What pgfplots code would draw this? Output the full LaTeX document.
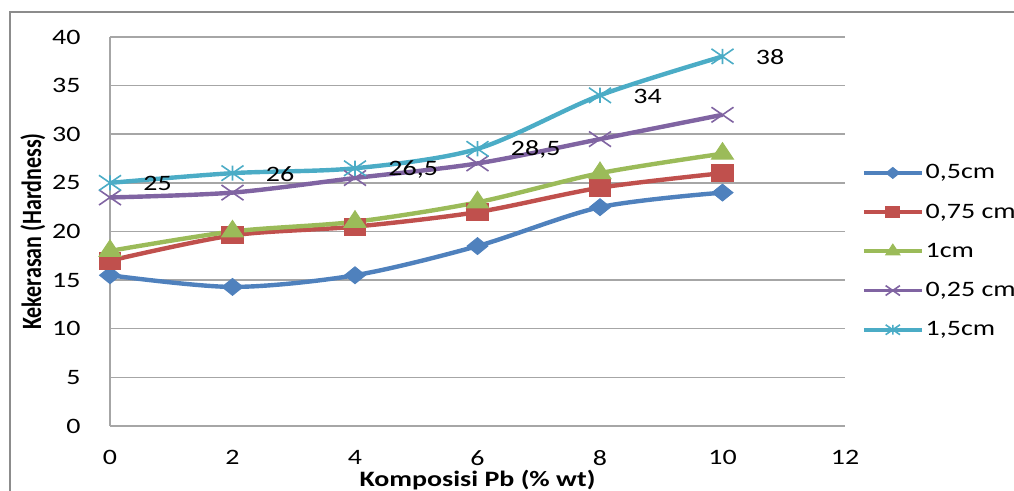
\documentclass[border=0pt]{standalone}
\usepackage{fontspec}
\setmainfont{Carlito}[FakeStretch=1.27]
\newfontfamily\narrowfont{Carlito}
\usepackage{graphicx}
\usepackage{pgfplots}
\pgfplotsset{compat=1.18}

\definecolor{serBlue}{HTML}{4F81BD}
\definecolor{serRed}{HTML}{C0504D}
\definecolor{serGreen}{HTML}{9BBB59}
\definecolor{serPurple}{HTML}{8064A2}
\definecolor{serAqua}{HTML}{4BACC6}
\definecolor{gridgray}{HTML}{A6A6A6}
\definecolor{framegray}{HTML}{8C8C8C}

% cross made of two diagonals
\pgfdeclareplotmark{xcross}{%
  \pgfpathmoveto{\pgfqpoint{-\pgfplotmarksize}{-\pgfplotmarksize}}%
  \pgfpathlineto{\pgfqpoint{\pgfplotmarksize}{\pgfplotmarksize}}%
  \pgfpathmoveto{\pgfqpoint{-\pgfplotmarksize}{\pgfplotmarksize}}%
  \pgfpathlineto{\pgfqpoint{\pgfplotmarksize}{-\pgfplotmarksize}}%
  \pgfusepathqstroke}
% cross plus a vertical bar
\pgfdeclareplotmark{xstar}{%
  \pgfpathmoveto{\pgfqpoint{-\pgfplotmarksize}{-\pgfplotmarksize}}%
  \pgfpathlineto{\pgfqpoint{\pgfplotmarksize}{\pgfplotmarksize}}%
  \pgfpathmoveto{\pgfqpoint{-\pgfplotmarksize}{\pgfplotmarksize}}%
  \pgfpathlineto{\pgfqpoint{\pgfplotmarksize}{-\pgfplotmarksize}}%
  \pgfpathmoveto{\pgfqpoint{0pt}{-\pgfplotmarksize}}%
  \pgfpathlineto{\pgfqpoint{0pt}{\pgfplotmarksize}}%
  \pgfusepathqstroke}

\begin{document}
\begin{tikzpicture}[font=\fontsize{11}{13.2}\selectfont]
\begin{axis}[
  at={(0pt,0pt)}, anchor=south west,
  scale only axis, width=367.5pt, height=194.5pt,
  xmin=0, xmax=12, ymin=0, ymax=40,
  xtick={0,2,...,12}, ytick={0,5,...,40},
  axis x line=bottom, axis y line=left,
  axis line style={draw=gridgray, line width=0.75pt, -},
  major tick length=0pt,
  ymajorgrids, grid style={draw=gridgray, line width=0.75pt},
  tick label style={text=black, /pgf/number format/assume math mode=true},
  xticklabel style={yshift=-7.8pt},
  yticklabel style={xshift=-10.3pt},
  xlabel={\bfseries Komposisi Pb (\% wt)},
  ylabel={\narrowfont\bfseries\scalebox{1}[1.27]{Kekerasan (Hardness)}},
  every axis x label/.style={at={(axis description cs:0.5,-0.1388)}, anchor=center},
  every axis y label/.style={at={(axis description cs:-0.1048,0.5)}, rotate=90, anchor=center},
  clip=false,
  line width=2.2pt,
  smooth, tension=0.5,
  legend cell align=left,
  legend style={at={(axis description cs:1.02,0.449)}, anchor=west,
    draw=none, fill=none, inner sep=0pt, row sep=7.6pt,
    nodes={text height=8pt, text depth=2pt, inner ysep=1pt, inner xsep=1pt}},
  legend image code/.code={%
    \draw[mark repeat=2, mark phase=2, #1, line width=1.9pt,
          every mark/.append style={scale=0.65}]
      plot coordinates {(0pt,0pt) (14.5pt,0pt) (29pt,0pt)};},
]
\addplot[color=serBlue, mark=diamond*, mark size=4.2pt,
  mark options={xscale=1.65, line width=0.5pt, solid}]
  coordinates {(0,15.5) (2,14.3) (4,15.5) (6,18.5) (8,22.5) (10,24)};
\addlegendentry{0,5cm}

\addplot[color=serRed, mark=square*, mark size=4.2pt,
  mark options={xscale=1.3, line width=0.5pt, solid}]
  coordinates {(0,17) (2,19.6) (4,20.5) (6,22) (8,24.5) (10,26)};
\addlegendentry{0,75 cm}

\addplot[color=serGreen, mark=triangle*, mark size=5.5pt,
  mark options={xscale=1.15, line width=0.5pt, solid}]
  coordinates {(0,18) (2,20) (4,21) (6,23) (8,26) (10,28)};
\addlegendentry{1cm}

\addplot[color=serPurple, mark=xcross, mark size=3.8pt,
  mark options={xscale=1.45, line width=0.8pt, solid}]
  coordinates {(0,23.5) (2,24) (4,25.5) (6,27) (8,29.5) (10,32)};
\addlegendentry{0,25 cm}

\addplot[color=serAqua, mark=xstar, mark size=3.8pt,
  mark options={xscale=1.45, line width=0.8pt, solid},
  nodes near coords, point meta=explicit symbolic,
  nodes near coords style={anchor=west, xshift=13pt, yshift=-0.5pt, text=black}]
  coordinates {(0,25) [25] (2,26) [26] (4,26.5) [26,5] (6,28.5) [28,5] (8,34) [34] (10,38) [38]};
\addlegendentry{1,5cm}
\end{axis}
\draw[framegray, line width=1pt] (-50pt,-60pt) rectangle (480pt,207pt);
\pgfresetboundingbox
\useasboundingbox (-55pt,-32.5pt) rectangle (452pt,213pt);
\end{tikzpicture}
\end{document}
